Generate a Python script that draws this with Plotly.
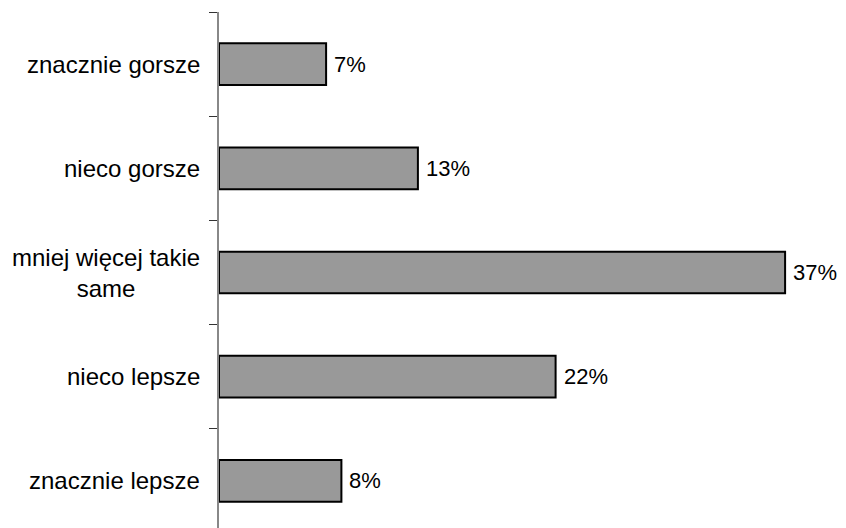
import plotly.graph_objects as go

categories = ["znacznie lepsze", "nieco lepsze", "mniej więcej takie<br>same", "nieco gorsze", "znacznie gorsze"]
values = [8, 22, 37, 13, 7]
value_labels = ["8%", "22%", "37%", "13%", "7%"]

FONT = "Liberation Sans, Arial, sans-serif"
FS = 24
FS_VAL = 22

fig = go.Figure(go.Bar(
    y=list(range(len(categories))),
    x=values,
    orientation="h",
    marker=dict(color="#999999", line=dict(color="black", width=2)),
    width=0.4,
))

for i, c in enumerate(categories):
    fig.add_annotation(
        x=0, xref="paper", y=i, yref="y", text=c, showarrow=False,
        xanchor="right", yanchor="middle", align="center", xshift=-17,
        font=dict(family=FONT, size=FS, color="black"),
    )
    fig.add_annotation(
        x=values[i], xref="x", y=i, yref="y", text=value_labels[i], showarrow=False,
        xanchor="left", yanchor="middle", xshift=6,
        font=dict(family=FONT, size=FS_VAL, color="black"),
    )

fig.update_layout(
    width=838, height=520,
    margin=dict(l=211, r=15, t=4, b=0, autoexpand=False),
    paper_bgcolor="white", plot_bgcolor="white",
    showlegend=False,
    xaxis=dict(range=[0, 40], visible=False),
    yaxis=dict(
        range=[-0.452, 4.5],
        tickmode="array", tickvals=[-0.5, 0.5, 1.5, 2.5, 3.5, 4.5], ticktext=[""] * 6,
        ticks="outside", ticklen=8, tickwidth=1, tickcolor="#333333",
        showline=True, linecolor="#888888", linewidth=2,
        showgrid=False, zeroline=False,
    ),
)

fig.write_html("out.html")
